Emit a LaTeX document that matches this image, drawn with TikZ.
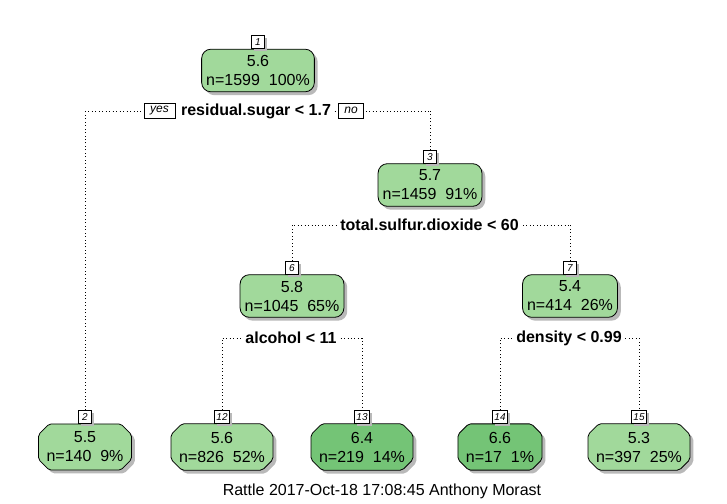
\documentclass[tikz,border=0pt]{standalone}
\usepackage{fontspec}
\setmainfont{Liberation Sans}
\usetikzlibrary{positioning,shadows,shapes.misc}

\definecolor{lightgn}{RGB}{161,217,155}
\definecolor{darkgn}{RGB}{116,196,118}
\definecolor{shade}{RGB}{185,185,185}

\tikzset{
  inner/.style={draw, line width=0.6pt, rounded corners=7pt, fill=lightgn, align=center,
    inner xsep=3.4pt, inner ysep=2pt, minimum height=32pt,
    font=\fontsize{12}{14.25}\selectfont,
    drop shadow={shadow xshift=2.5pt, shadow yshift=-2.5pt, fill=shade, opacity=1}},
  leaf/.style={inner, shape=chamfered rectangle, rounded corners=1.5pt, inner xsep=2pt,
    chamfered rectangle xsep=4pt, chamfered rectangle ysep=4pt, minimum height=33pt},
  numbox/.style={draw, line width=0.5pt, fill=white, inner xsep=1.5pt, inner ysep=0.5pt,
    minimum width=10pt, minimum height=9.5pt, font=\fontsize{7.5}{8}\selectfont\itshape,
    drop shadow={shadow xshift=2pt, shadow yshift=-2pt, fill=shade, opacity=1}},
  tag/.style={draw, line width=0.5pt, fill=white, inner xsep=4.5pt, inner ysep=1pt,
    minimum height=11.5pt, font=\fontsize{9}{10}\selectfont\itshape},
  cond/.style={fill=white, inner xsep=2pt, inner ysep=1pt,
    font=\fontsize{12}{14}\selectfont\bfseries},
  link/.style={dotted, line width=0.6pt}
}

\begin{document}
\begin{tikzpicture}[x=0.75pt, y=-0.75pt]
  \useasboundingbox (0,0) rectangle (727,503);

  % nodes
  \node[inner] (n1) at (258,70.5) {5.6\\n=1599\ \ 100\%};
  \node[inner] (n3) at (430,185) {5.7\\n=1459\ \ 91\%};
  \node[inner] (n6) at (292,296) {5.8\\n=1045\ \ 65\%};
  \node[inner] (n7) at (570,296) {5.4\\n=414\ \ 26\%};
  \node[leaf] (n2) at (85,447) {5.5\\n=140\ \ 9\%};
  \node[leaf] (n12) at (222,447) {5.6\\n=826\ \ 52\%};
  \node[leaf, fill=darkgn] (n13) at (362,447) {6.4\\n=219\ \ 14\%};
  \node[leaf, fill=darkgn] (n14) at (500,447) {6.6\\n=17\ \ 1\%};
  \node[leaf] (n15) at (639,447) {5.3\\n=397\ \ 25\%};

  % node numbers
  \foreach \n in {1,2,3,6,7,12,13,14,15}
    \node[numbox, above=0pt of n\n] (l\n) {\n};

  % splits
  \draw[link] (85,111) -- (430,111);
  \draw[link] (l2.north) |- (85,111);
  \draw[link] (l3.north) |- (430,111);
  \node[tag] (yes) at (159.5,110.5) {yes};
  \node[tag] (no) at (351,110.5) {no};
  \node[cond] (s1) at (256,111) {residual.sugar < 1.7};

  \draw[link] (l6.north) |- (l7.north |- 0,225);
  \draw[link] (l7.north) -- (l7.north |- 0,225);
  \node[cond] (s3) at (429.5,225) {total.sulfur.dioxide < 60};

  \draw[link] (l12.north) |- (l13.north |- 0,338) -- (l13.north);
  \node[cond] (s6) at (291,338) {alcohol < 11};

  \draw[link] (l14.north) |- (l15.north |- 0,338) -- (l15.north);
  \node[cond] (s7) at (569,338) {density < 0.99};

  % caption
  \node[font=\fontsize{12}{14}\selectfont] (cap) at (382,491) {Rattle 2017-Oct-18 17:08:45 Anthony Morast};
\end{tikzpicture}
\end{document}
